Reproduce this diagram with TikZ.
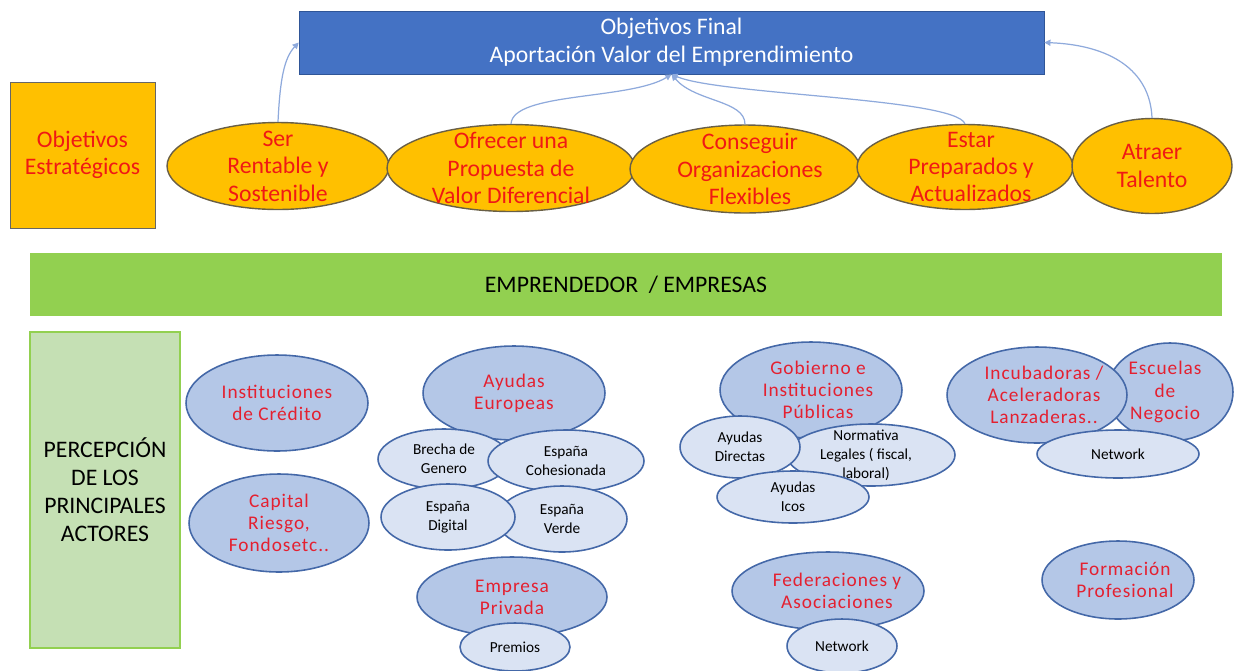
\documentclass[tikz,border=0pt]{standalone}
\usepackage{fontspec}
\setmainfont{Carlito}
\newfontfamily\spacedfont[LetterSpace=5]{Carlito}
\usetikzlibrary{shapes.geometric, arrows.meta}
\definecolor{goldfill}{RGB}{255,192,0}
\definecolor{goldline}{RGB}{105,95,70}
\definecolor{finalblue}{RGB}{68,114,196}
\definecolor{finalline}{RGB}{47,85,151}
\definecolor{barverde}{RGB}{146,208,80}
\definecolor{paleverde}{RGB}{197,224,180}
\definecolor{actorfill}{RGB}{180,199,231}
\definecolor{subfill}{RGB}{218,227,243}
\definecolor{actorline}{RGB}{68,104,168}
\definecolor{linkblue}{RGB}{143,170,220}
\definecolor{txtred}{RGB}{240,25,20}
\definecolor{actorred}{RGB}{228,32,48}

\begin{document}
\begin{tikzpicture}[x=0.02cm, y=-0.02cm,
  meta/.style={ellipse, draw=goldline, fill=goldfill, line width=0.8pt, inner sep=0pt},
  metatxt/.style={text=txtred, align=center, font=\fontsize{13.5}{15.6}\selectfont},
  actor/.style={ellipse, draw=actorline, fill=actorfill, line width=0.9pt, inner sep=0pt},
  actortxt/.style={text=actorred, align=center, font=\spacedfont\fontsize{11}{12.6}\selectfont},
  sub/.style={ellipse, draw=actorline, fill=subfill, line width=0.9pt, inner sep=0pt},
  subtxt/.style={text=black, align=center, font=\fontsize{8.7}{10.8}\selectfont},
  link/.style={-{Triangle[length=3.5pt,width=3.5pt]}, draw=linkblue, line width=0.7pt}
]
  \useasboundingbox (0,0) rectangle (1237,670);

  % objetivo final y objetivos estrategicos
  \node[draw=finalline, fill=finalblue, minimum width=14.9cm, minimum height=1.26cm,
        text=white, align=center, font=\fontsize{13.5}{15.8}\selectfont] (final) at (671.5,42.5)
        {Objetivos Final\\Aportación Valor del Emprendimiento};
  \node[draw=gray!80!black, fill=goldfill, minimum width=2.9cm, minimum height=2.92cm,
        metatxt] (estrat) at (82.5,155) {Objetivos\\Estratégicos};

  \node[meta, minimum width=4.44cm, minimum height=1.74cm,
        label={[metatxt]center:Ser\\Rentable y\\Sostenible}] (ser) at (278,166) {};
  \node[meta, minimum width=4.96cm, minimum height=1.74cm,
        label={[metatxt]center:Ofrecer una\\Propuesta de\\Valor Diferencial}] (ofrecer) at (511,168) {};
  \node[meta, minimum width=4.6cm, minimum height=1.76cm,
        label={[metatxt, xshift=0.1cm]center:Conseguir\\Organizaciones\\Flexibles}] (conseguir) at (745,169) {};
  \node[meta, minimum width=4.32cm, minimum height=1.7cm,
        label={[metatxt, xshift=0.12cm]center:Estar\\Preparados y\\Actualizados}] (estar) at (965,167) {};
  \node[meta, minimum width=3.2cm, minimum height=1.9cm,
        label={[metatxt]center:Atraer\\Talento}] (atraer) at (1152,166) {};

  \draw[link] (ser.north) .. controls (280,80) and (284,58) .. (final.west);
  \draw[link] (ofrecer.north) .. controls (513,92) and (630,100) .. (final.south);
  \draw[link] (conseguir.north) .. controls (745,100) and (695,102) .. (final.south);
  \draw[link] (estar.north) .. controls (955,98) and (720,95) .. (final.south);
  \draw[link] (atraer.north) .. controls (1150,70) and (1110,45) .. (final.east);

  % franja y actores
  \node[fill=barverde, minimum width=23.84cm, minimum height=1.26cm,
        font=\fontsize{13.5}{15.6}\selectfont] (emprend) at (626,284.5) {EMPRENDEDOR\ \ / EMPRESAS};
  \node[draw=barverde, fill=paleverde, line width=0.8pt, minimum width=3cm, minimum height=6.32cm,
        align=center, font=\fontsize{13.5}{15.9}\selectfont] (percep) at (105,490)
        {PERCEPCIÓN\\DE LOS\\PRINCIPALES\\ACTORES};

  \node[actor, minimum width=3.64cm, minimum height=1.92cm,
        label={[actortxt]center:Instituciones\\de Crédito}] (inst) at (277,403) {};
  \node[actor, minimum width=3.6cm, minimum height=1.96cm,
        label={[actortxt]center:Capital\\Riesgo,\\Fondosetc..}] (capital) at (279,523) {};

  \node[actor, minimum width=3.64cm, minimum height=1.88cm,
        label={[actortxt]center:Ayudas\\Europeas}] (ayudasEU) at (514,393) {};
  \node[sub, minimum width=2.64cm, minimum height=1.2cm,
        label={[subtxt]center:Brecha de\\Genero}] (brecha) at (444,459) {};
  \node[sub, minimum width=3.12cm, minimum height=1.24cm,
        label={[subtxt]center:España\\Cohesionada}] (cohes) at (566,461) {};
  \node[sub, minimum width=2.6cm, minimum height=1.32cm,
        label={[subtxt]center:España\\Verde}] (verde) at (562,519) {};
  \node[sub, minimum width=2.68cm, minimum height=1.32cm,
        label={[subtxt]center:España\\Digital}] (digital) at (448,517) {};
  \node[actor, minimum width=3.8cm, minimum height=1.6cm,
        label={[actortxt]center:Empresa\\Privada}] (privada) at (512,597) {};
  \node[sub, minimum width=2.2cm, minimum height=0.96cm,
        label={[subtxt]center:Premios}] (premios) at (515,647) {};

  \node[actor, minimum width=3.64cm, minimum height=1.92cm,
        label={[actortxt, xshift=0.14cm]center:Gobierno e\\Instituciones\\Públicas}] (gobierno) at (811,390) {};
  \node[sub, minimum width=3.36cm, minimum height=1.24cm,
        label={[subtxt, xshift=-0.1cm]center:Normativa\\Legales ( fiscal,\\laboral)}] (normativa) at (871,455) {};
  \node[sub, minimum width=2.4cm, minimum height=1.24cm,
        label={[subtxt]center:Ayudas\\Directas}] (directas) at (740,447) {};
  \node[sub, minimum width=3.04cm, minimum height=1.04cm,
        label={[subtxt]center:Ayudas\\Icos}] (icos) at (793,497) {};
  \node[actor, minimum width=3.84cm, minimum height=1.56cm,
        label={[actortxt, xshift=0.18cm]center:Federaciones y\\Asociaciones}] (feder) at (828,591) {};
  \node[sub, minimum width=2.2cm, minimum height=1.08cm,
        label={[subtxt]center:Network}] (netB) at (842,646) {};

  \node[actor, minimum width=2.52cm, minimum height=1.96cm,
        label={[actortxt, xshift=-0.1cm]center:Escuelas\\de\\Negocio}] (escuelas) at (1170,392) {};
  \node[actor, minimum width=3.6cm, minimum height=1.92cm,
        label={[actortxt, xshift=0.14cm]center:Incubadoras /\\Aceleradoras\\Lanzaderas..}] (incub) at (1037,395) {};
  \node[sub, minimum width=3.24cm, minimum height=0.96cm,
        label={[subtxt]center:Network}] (netA) at (1118,454) {};
  \node[actor, minimum width=3.04cm, minimum height=1.56cm,
        label={[actortxt, xshift=0.14cm]center:Formación\\Profesional}] (formacion) at (1118,580) {};
\end{tikzpicture}
\end{document}
